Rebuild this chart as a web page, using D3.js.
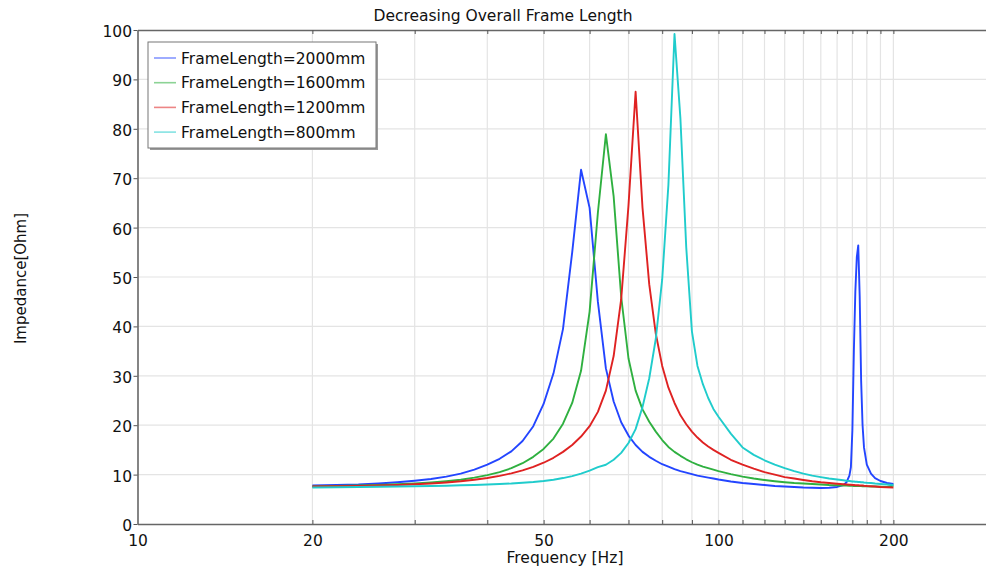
<!DOCTYPE html>
<html>
<head>
<meta charset="utf-8">
<script src="https://cdn.jsdelivr.net/npm/d3@7"></script>
<style>
    body { margin: 0; background: #fff; }
    text { font-family: "DejaVu Sans", sans-serif; fill: #111; }
</style>
</head>
<body>
<div id="chart"></div>
<script>
'use strict';

// sample frequencies [Hz] shared by all four sweeps
var freqs = [20, 22, 24, 26, 28, 30, 32, 34, 36, 38, 40, 42, 44, 46, 48, 50, 52, 54, 56, 58,
             60, 62, 64, 66, 68, 70, 72, 74, 76, 78, 80, 82, 84, 86, 88, 90, 92, 94, 96, 98, 100,
             105, 110, 115, 120, 125, 130, 135, 140, 145, 150, 155, 160,
             164, 166, 168, 169, 170, 171, 172, 173, 174, 175, 176, 177, 178, 180, 183, 186, 190, 195, 200];

// impedance [Ohm]
var len2000 = [7.8, 7.9, 8.0, 8.2, 8.45, 8.75, 9.1, 9.6, 10.2, 11.0, 12.0, 13.2, 14.7, 16.8, 19.8, 24.3, 30.5, 39.5, 55.0, 71.7,
               64.0, 45.0, 31.5, 24.8, 20.6, 17.9, 16.0, 14.6, 13.6, 12.8, 12.1, 11.6, 11.1, 10.7, 10.4, 10.1, 9.8, 9.6, 9.4, 9.2, 9.0,
               8.6, 8.3, 8.1, 7.9, 7.7, 7.6, 7.5, 7.4, 7.35, 7.3, 7.35, 7.5,
               7.9, 8.4, 9.8, 11.5, 19.0, 35.0, 47.0, 54.0, 56.4, 46.0, 29.0, 20.0, 15.5, 12.0, 10.2, 9.3, 8.7, 8.3, 8.1];

var len1600 = [7.6, 7.7, 7.8, 7.9, 8.05, 8.2, 8.4, 8.65, 8.95, 9.4, 9.9, 10.5, 11.3, 12.3, 13.6, 15.2, 17.3, 20.3, 24.5, 31.0,
               43.0, 63.0, 78.9, 66.3, 46.0, 33.5, 27.0, 23.2, 20.7, 18.7, 17.0, 15.6, 14.6, 13.8, 13.1, 12.5, 12.0, 11.6, 11.3, 11.0, 10.7,
               10.1, 9.6, 9.2, 8.9, 8.65, 8.45, 8.3, 8.2, 8.1, 8.0, 7.9, 7.85,
               7.8, 7.8, 7.75, 7.75, 7.75, 7.7, 7.7, 7.7, 7.7, 7.7, 7.7, 7.65, 7.65, 7.65, 7.6, 7.6, 7.55, 7.5, 7.8];

var len1200 = [7.6, 7.65, 7.7, 7.8, 7.9, 8.05, 8.2, 8.4, 8.65, 8.95, 9.3, 9.75, 10.25, 10.85, 11.55, 12.4, 13.4, 14.6, 16.0, 17.7,
               19.8, 22.7, 27.0, 34.0, 45.5, 64.5, 87.5, 64.0, 48.5, 38.5, 32.0, 27.6, 24.5, 22.0, 20.2, 18.7, 17.5, 16.5, 15.7, 15.0, 14.4,
               13.0, 12.0, 11.2, 10.5, 10.0, 9.5, 9.2, 8.9, 8.65, 8.45, 8.3, 8.15,
               8.05, 8.0, 7.95, 7.95, 7.9, 7.9, 7.85, 7.85, 7.85, 7.8, 7.8, 7.8, 7.75, 7.7, 7.65, 7.6, 7.5, 7.45, 7.4];

var len800  = [7.4, 7.45, 7.5, 7.55, 7.6, 7.65, 7.7, 7.75, 7.85, 7.9, 8.0, 8.1, 8.2, 8.35, 8.5, 8.7, 8.95, 9.3, 9.7, 10.2,
               10.8, 11.5, 12.0, 13.0, 14.4, 16.4, 19.2, 23.7, 29.5, 37.5, 49.5, 68.7, 99.2, 82.0, 56.0, 39.0, 32.0, 28.3, 25.5, 23.3, 21.7,
               18.3, 15.5, 14.0, 12.9, 12.0, 11.3, 10.7, 10.2, 9.8, 9.5, 9.2, 9.0,
               8.85, 8.75, 8.7, 8.65, 8.6, 8.6, 8.55, 8.55, 8.5, 8.5, 8.45, 8.45, 8.4, 8.35, 8.3, 8.2, 8.1, 8.0, 7.9];

var seriesNames  = ['FrameLength=2000mm', 'FrameLength=1600mm', 'FrameLength=1200mm', 'FrameLength=800mm'];
var seriesColors = ['#2345ff', '#2fb040', '#df2222', '#20cccc'];

var xLabelTicks = [10, 20, 50, 100, 200];
var xGridTicks  = [20, 30, 40, 50, 60, 70, 80, 90, 100, 110, 120, 130, 140, 150, 160, 170, 180, 190, 200];
var yTicks      = [0, 10, 20, 30, 40, 50, 60, 70, 80, 90, 100];

function impedancePlot()
{
    var scope = {};
    var exports = {};

    scope.width  = 986;
    scope.height = 567;
    scope.plot   = {left: 137.5, right: 995.7, top: 30, bottom: 524};

    scope.xScale = undefined;
    scope.yScale = undefined;

    scope.appendSvg = function(div)
    {
        return d3.select(div).append('svg')
            .attr('width', scope.width)
            .attr('height', scope.height);
    }

    scope.createScales = function()
    {
        scope.xScale = d3.scaleLog().domain([10, 300]).range([scope.plot.left, scope.plot.right]);
        scope.yScale = d3.scaleLinear().domain([0, 100]).range([scope.plot.bottom, scope.plot.top]);
    }

    scope.appendGrid = function(svg)
    {
        var grid = svg.append('g').attr('class', 'grid');

        grid.selectAll('line.v')
            .data(xGridTicks)
            .enter()
            .append('line')
            .attr('x1', function(d){ return scope.xScale(d); })
            .attr('x2', function(d){ return scope.xScale(d); })
            .attr('y1', scope.plot.top)
            .attr('y2', scope.plot.bottom)
            .style('stroke', '#e4e4e4')
            .style('stroke-width', 1.2);

        grid.selectAll('line.h')
            .data(yTicks.slice(1, -1))
            .enter()
            .append('line')
            .attr('x1', scope.plot.left)
            .attr('x2', scope.plot.right)
            .attr('y1', function(d){ return scope.yScale(d); })
            .attr('y2', function(d){ return scope.yScale(d); })
            .style('stroke', '#e4e4e4')
            .style('stroke-width', 1.2);
    }

    scope.appendAxes = function(svg)
    {
        var p = scope.plot;

        // inward tick marks, bottom and top
        svg.append('g')
            .attr('transform', 'translate(0,' + p.bottom + ')')
            .call(d3.axisBottom(scope.xScale).tickValues(xGridTicks).tickSize(-4).tickSizeOuter(0).tickFormat(''));
        svg.append('g')
            .attr('transform', 'translate(0,' + p.top + ')')
            .call(d3.axisTop(scope.xScale).tickValues(xGridTicks).tickSize(-4).tickSizeOuter(0).tickFormat(''));

        // x labels
        svg.append('g')
            .attr('class', 'xLabels')
            .attr('transform', 'translate(0,' + p.bottom + ')')
            .call(d3.axisBottom(scope.xScale).tickValues(xLabelTicks).tickSize(0).tickPadding(10.5)
                .tickFormat(d3.format('d')))
            .call(function(g){ g.select('.domain').remove(); });

        // y axis
        svg.append('g')
            .attr('class', 'yAxis')
            .attr('transform', 'translate(' + p.left + ',0)')
            .call(d3.axisLeft(scope.yScale).tickValues(yTicks).tickSize(4).tickPadding(1.5).tickSizeOuter(0));

        svg.selectAll('.tick text')
            .style('font-family', '"DejaVu Sans", sans-serif')
            .style('font-size', '15.5px')
            .style('fill', '#111');
        svg.selectAll('.yAxis .tick text').attr('dy', '0.42em');
        svg.selectAll('.tick line').style('stroke', '#555');
        svg.selectAll('.domain').style('stroke', '#666').style('stroke-width', 1.6);
    }

    scope.appendLines = function(svg)
    {
        var values = [len2000, len1600, len1200, len800];

        var line = d3.line()
            .x(function(d){ return scope.xScale(d[0]); })
            .y(function(d){ return scope.yScale(d[1]); });

        svg.append('g')
            .attr('class', 'curves')
            .selectAll('path')
            .data(values)
            .enter()
            .append('path')
            .attr('d', function(vals){ return line(d3.zip(freqs, vals)); })
            .style('fill', 'none')
            .style('stroke', function(d, i){ return seriesColors[i]; })
            .style('stroke-width', 1.9)
            .style('stroke-linejoin', 'round');
    }

    scope.appendLegend = function(svg)
    {
        var lx = 148, ly = 42, lw = 228, lh = 106;
        var g = svg.append('g').attr('class', 'legend');

        g.append('rect')
            .attr('x', lx + 2).attr('y', ly + 2)
            .attr('width', lw).attr('height', lh)
            .style('fill', '#9a9a9a');
        g.append('rect')
            .attr('x', lx).attr('y', ly)
            .attr('width', lw).attr('height', lh)
            .style('fill', '#fff')
            .style('stroke', '#777')
            .style('stroke-width', 1);

        var rows = g.selectAll('g.row')
            .data(seriesNames)
            .enter()
            .append('g')
            .attr('transform', function(d, i){ return 'translate(' + lx + ',' + (ly + 16 + i * 24.7) + ')'; });

        rows.append('line')
            .attr('x1', 6).attr('x2', 28)
            .style('stroke', function(d, i){ return seriesColors[i]; })
            .style('stroke-width', 1.6)
            .style('opacity', 0.55);

        rows.append('text')
            .attr('x', 33)
            .attr('y', 5.5)
            .style('font-size', '15.5px')
            .text(function(d){ return d; });
    }

    scope.appendTitles = function(svg)
    {
        svg.append('text')
            .attr('x', 503).attr('y', 21.3)
            .attr('text-anchor', 'middle')
            .style('font-size', '15.5px')
            .text('Decreasing Overall Frame Length');

        svg.append('text')
            .attr('x', 565).attr('y', 563)
            .attr('text-anchor', 'middle')
            .style('font-size', '15.5px')
            .text('Frequency [Hz]');

        svg.append('text')
            .attr('transform', 'translate(26,278.5) rotate(-90)')
            .attr('text-anchor', 'middle')
            .style('font-size', '15px')
            .text('Impedance[Ohm]');
    }

    //------------- exported API -----------------------------------

    exports.run = function(div)
    {
        var svg = scope.appendSvg(div);

        scope.createScales();
        scope.appendGrid(svg);
        scope.appendAxes(svg);
        scope.appendLines(svg);
        scope.appendLegend(svg);
        scope.appendTitles(svg);
    }

    return exports;
}

impedancePlot().run('#chart');
</script>
</body>
</html>
